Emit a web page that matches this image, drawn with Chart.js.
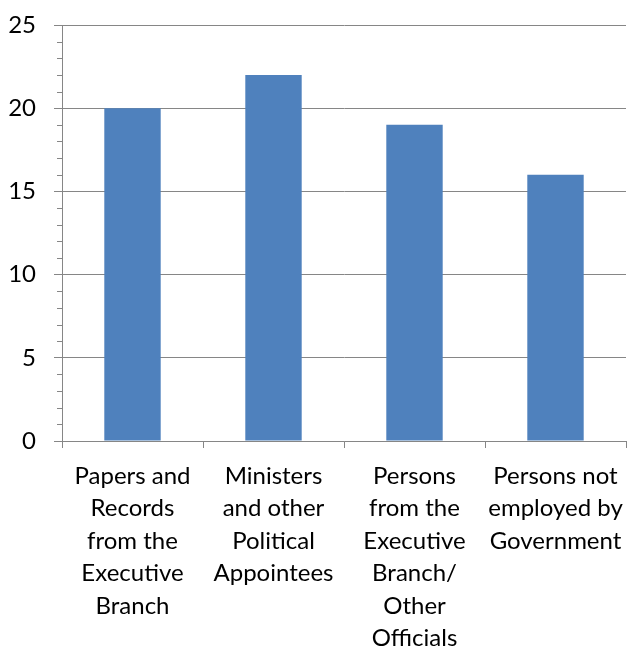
<!DOCTYPE html>
<html>
<head>
<meta charset="utf-8">
<script src="https://cdn.jsdelivr.net/npm/chart.js@4/dist/chart.umd.min.js"></script>
<style>
    html, body { margin: 0; padding: 0; overflow: hidden; background: #fff; }
    #wrap { width: 628px; height: 660px; }
</style>
</head>
<body>
<div id="wrap"><canvas id="barChart" width="628" height="660"></canvas></div>
<script>
// categories (wrapped the same way as the original axis labels)
const categories = [
    ['Papers and', 'Records', 'from the', 'Executive', 'Branch'],
    ['Ministers', 'and other', 'Political', 'Appointees'],
    ['Persons', 'from the', 'Executive', 'Branch/', 'Other', 'Officials'],
    ['Persons not', 'employed by', 'Government'],
];
const values = [20, 22, 19, 16];
const yTicks = [0, 5, 10, 15, 20, 25];
const minorStep = 1;

const gridGray = '#868686';
const labelFont = { family: 'Lato, "Open Sans", sans-serif', size: 24, lineHeight: 1.354 };

// small tick marks between the labelled ones on the value axis
const minorTicks = {
    id: 'minorTicks',
    afterDraw(chart) {
        const y = chart.scales.y;
        const ctx = chart.ctx;
        const x0 = y.right;
        ctx.save();
        ctx.strokeStyle = gridGray;
        ctx.lineWidth = 1;
        for (let v = yTicks[0]; v <= yTicks[yTicks.length - 1]; v += minorStep) {
            if (yTicks.includes(v)) continue;
            const py = Math.round(y.getPixelForValue(v)) + 0.5;
            ctx.beginPath();
            ctx.moveTo(x0 - 5, py);
            ctx.lineTo(x0, py);
            ctx.stroke();
        }
        ctx.restore();
    },
};

const ctx = document.getElementById('barChart').getContext('2d');
const barChart = new Chart(ctx, {
    type: 'bar',
    data: {
        labels: categories,
        datasets: [
            {
                data: values,
                backgroundColor: '#4F81BD',
                borderWidth: 0,
                barPercentage: 0.4,
                categoryPercentage: 1.0,
            },
        ],
    },
    options: {
        responsive: false,
        animation: false,
        layout: { padding: { top: 25, right: 2, left: 0, bottom: 0 } },
        plugins: {
            legend: { display: false },
            tooltip: { enabled: false },
        },
        scales: {
            x: {
                offset: true,
                grid: {
                    offset: true,
                    drawOnChartArea: false,
                    color: gridGray,
                    tickLength: 7,
                },
                border: { color: gridGray },
                ticks: {
                    color: '#000',
                    font: labelFont,
                    padding: 12,
                    maxRotation: 0,
                    autoSkip: false,
                },
                afterFit(scale) {
                    scale.height = 219;
                    scale.paddingLeft = 0;
                    scale.paddingRight = 0;
                },
            },
            y: {
                min: 0,
                max: 25,
                afterBuildTicks(scale) {
                    scale.ticks = yTicks.map((v) => ({ value: v }));
                },
                grid: {
                    color: gridGray,
                    tickLength: 8,
                },
                border: { color: gridGray },
                ticks: {
                    color: '#000',
                    font: labelFont,
                    padding: 18,
                },
                afterFit(scale) {
                    scale.width = 62;
                    scale.paddingTop = 0;
                    scale.paddingBottom = 0;
                },
            },
        },
    },
    plugins: [minorTicks],
});
</script>
</body>
</html>
